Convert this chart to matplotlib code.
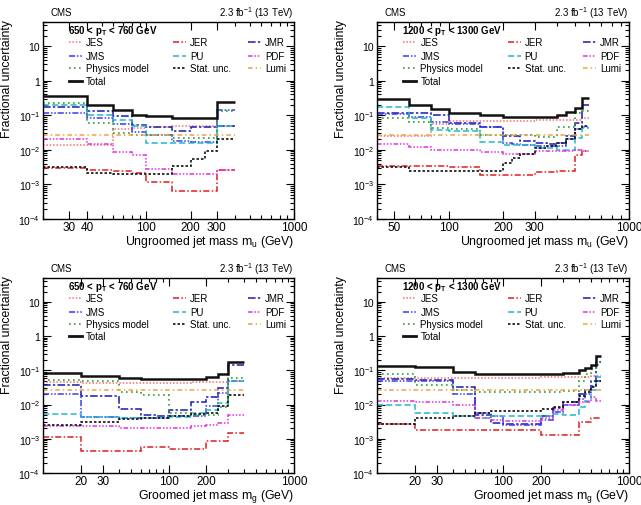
import math
import matplotlib
matplotlib.use("Agg")
import matplotlib.pyplot as plt
from matplotlib import ticker

plt.rcParams['font.family'] = ['Liberation Sans', 'DejaVu Sans']
plt.rcParams['mathtext.fontset'] = 'custom'
plt.rcParams['mathtext.rm'] = 'Liberation Sans'
plt.rcParams['mathtext.bf'] = 'Liberation Sans:bold'

# ---- ungroomed, 650 < pT < 760 GeV
u650_edges = [20, 40, 60, 80, 100, 150, 200, 250, 300, 400]
u650_jes = [0.0135, 0.014, 0.040, 0.042, 0.045, 0.048, 0.050, 0.050, 0.050]
u650_jer = [0.0029, 0.0026, 0.0024, 0.0021, 0.0012, 0.00065, 0.00065, 0.00065, 0.0026]
u650_jmr = [0.17, 0.13, 0.095, 0.052, 0.047, 0.034, 0.046, 0.046, 0.050]
u650_jms = [0.115, 0.085, 0.055, 0.033, 0.027, 0.018, 0.017, 0.017, 0.14]
u650_pu = [0.20, 0.105, 0.075, 0.048, 0.016, 0.016, 0.016, 0.016, 0.050]
u650_pdf = [0.020, 0.015, 0.0085, 0.0072, 0.0028, 0.0020, 0.0020, 0.0020, 0.0027]
u650_phys = [0.23, 0.060, 0.030, 0.027, 0.027, 0.022, 0.022, 0.022, 0.13]
u650_stat = [0.0032, 0.0021, 0.0020, 0.0020, 0.0020, 0.0035, 0.0055, 0.009, 0.021]
u650_lumi = [0.027, 0.027, 0.027, 0.027, 0.027, 0.027, 0.027, 0.027, 0.027]
u650_total = [0.36, 0.20, 0.14, 0.10, 0.095, 0.085, 0.085, 0.085, 0.24]

# ---- ungroomed, 1200 < pT < 1300 GeV
u1200_edges = [40, 60, 80, 100, 150, 200, 225, 250, 300, 350, 400, 450, 500, 550, 600]
u1200_jes = [0.026, 0.026, 0.057, 0.067, 0.070, 0.070, 0.070, 0.070, 0.072, 0.072, 0.072, 0.072, 0.072, 0.085]
u1200_jer = [0.0035, 0.0035, 0.0035, 0.0033, 0.0019, 0.0019, 0.0019, 0.0019, 0.0023, 0.0023, 0.0024, 0.0024, 0.007, 0.009]
u1200_jmr = [0.12, 0.12, 0.10, 0.060, 0.045, 0.025, 0.025, 0.018, 0.016, 0.015, 0.016, 0.025, 0.060, 0.20]
u1200_jms = [0.11, 0.090, 0.065, 0.055, 0.045, 0.016, 0.015, 0.014, 0.013, 0.013, 0.013, 0.020, 0.040, 0.045]
u1200_pu = [0.175, 0.084, 0.038, 0.036, 0.017, 0.014, 0.014, 0.014, 0.011, 0.011, 0.010, 0.010, 0.022, 0.043]
u1200_pdf = [0.015, 0.012, 0.010, 0.010, 0.0086, 0.0077, 0.0077, 0.0077, 0.009, 0.009, 0.009, 0.009, 0.010, 0.009]
u1200_phys = [0.085, 0.063, 0.043, 0.040, 0.027, 0.027, 0.027, 0.027, 0.023, 0.023, 0.045, 0.045, 0.12, 0.13]
u1200_stat = [0.0033, 0.0024, 0.0024, 0.0024, 0.0024, 0.0042, 0.006, 0.0078, 0.011, 0.013, 0.016, 0.020, 0.040, 0.048]
u1200_lumi = [0.027, 0.027, 0.027, 0.027, 0.027, 0.027, 0.027, 0.027, 0.027, 0.027, 0.027, 0.027, 0.027, 0.027]
u1200_total = [0.29, 0.20, 0.155, 0.115, 0.10, 0.087, 0.087, 0.087, 0.087, 0.087, 0.105, 0.128, 0.16, 0.31]

# ---- groomed, 650 < pT < 760 GeV
g650_edges = [10, 20, 40, 60, 80, 100, 150, 200, 250, 300, 400]
g650_jes = [0.045, 0.044, 0.044, 0.044, 0.044, 0.044, 0.045, 0.045, 0.046, 0.048]
g650_jer = [0.0011, 0.00045, 0.00045, 0.00058, 0.00058, 0.00052, 0.00052, 0.00085, 0.00085, 0.0015]
g650_jmr = [0.038, 0.018, 0.0075, 0.005, 0.0045, 0.007, 0.012, 0.017, 0.030, 0.14]
g650_jms = [0.020, 0.0042, 0.004, 0.004, 0.004, 0.0045, 0.0045, 0.009, 0.022, 0.048]
g650_pu = [0.0052, 0.0042, 0.004, 0.004, 0.004, 0.0044, 0.0055, 0.007, 0.011, 0.048]
g650_pdf = [0.0023, 0.0023, 0.002, 0.002, 0.002, 0.002, 0.0024, 0.0025, 0.0028, 0.005]
g650_phys = [0.052, 0.048, 0.023, 0.019, 0.019, 0.0055, 0.005, 0.005, 0.0087, 0.060]
g650_stat = [0.0026, 0.003, 0.0037, 0.004, 0.004, 0.0047, 0.0052, 0.0058, 0.009, 0.019]
g650_lumi = [0.027, 0.027, 0.027, 0.027, 0.027, 0.027, 0.027, 0.027, 0.027, 0.027]
g650_total = [0.085, 0.068, 0.058, 0.055, 0.055, 0.055, 0.056, 0.063, 0.078, 0.175]

# ---- groomed, 1200 < pT < 1300 GeV
g1200_edges = [10, 20, 40, 60, 80, 100, 150, 200, 250, 300, 400, 450, 500, 550, 600]
g1200_jes = [0.058, 0.058, 0.058, 0.058, 0.058, 0.058, 0.060, 0.062, 0.063, 0.065, 0.065, 0.066, 0.068, 0.070]
g1200_jer = [0.0027, 0.0018, 0.0018, 0.0018, 0.0018, 0.0018, 0.0018, 0.0013, 0.0013, 0.0013, 0.003, 0.003, 0.004, 0.004]
g1200_jmr = [0.057, 0.051, 0.033, 0.005, 0.0028, 0.0027, 0.0027, 0.0045, 0.0077, 0.012, 0.020, 0.026, 0.050, 0.18]
g1200_jms = [0.050, 0.048, 0.020, 0.0055, 0.0045, 0.0025, 0.0025, 0.0035, 0.006, 0.010, 0.015, 0.020, 0.035, 0.050]
g1200_pu = [0.0096, 0.0055, 0.0047, 0.004, 0.0047, 0.0047, 0.0047, 0.0047, 0.0052, 0.005, 0.0086, 0.013, 0.027, 0.064]
g1200_pdf = [0.013, 0.0115, 0.010, 0.004, 0.0035, 0.0033, 0.0033, 0.004, 0.007, 0.0096, 0.012, 0.012, 0.017, 0.013]
g1200_phys = [0.080, 0.037, 0.026, 0.023, 0.023, 0.023, 0.023, 0.023, 0.023, 0.025, 0.050, 0.077, 0.11, 0.14]
g1200_stat = [0.0027, 0.004, 0.0047, 0.0055, 0.0063, 0.0063, 0.0066, 0.0072, 0.0085, 0.012, 0.018, 0.023, 0.033, 0.048]
g1200_lumi = [0.027, 0.027, 0.027, 0.027, 0.027, 0.027, 0.027, 0.027, 0.027, 0.027, 0.027, 0.027, 0.027, 0.027]
g1200_total = [0.13, 0.125, 0.09, 0.077, 0.077, 0.077, 0.077, 0.077, 0.08, 0.085, 0.10, 0.12, 0.14, 0.27]

names = ["JES", "JER", "JMR", "JMS", "PU", "PDF", "Physics model", "Stat. unc.", "Lumi", "Total"]
colors = ["#f07070", "#e41a1c", "#1a1ab0", "#3a3aee", "#20b8c8", "#e030e0",
          "#30a030", "#111111", "#f0a040", "#111111"]
styles = [(0, (1, 1.2)), (0, (4, 1.5, 1, 1.5)), (0, (5, 1.5, 1.5, 1.5)),
          (0, (4, 1.2, 1, 1.2, 1, 1.2)), (0, (4, 2)), (0, (3, 1.2, 1, 1.2, 1, 1.2, 1, 1.2)),
          (0, (1, 2)), (0, (1.5, 1.2)), (0, (3, 2, 1, 2)), '-']
widths = [1.1, 1.1, 1.1, 1.1, 1.1, 1.1, 1.2, 1.2, 1.1, 1.8]

# legend layout (row, column per entry) in axes fraction
leg_rows = [0, 0, 0, 1, 1, 1, 2, 2, 2, 3]
leg_cols = [0, 1, 2, 0, 1, 2, 0, 1, 2, 0]
col_x = [0.104, 0.518, 0.817]
row_y = [0.897, 0.828, 0.765, 0.702]

W, H = 641, 506


def yfmt(v, pos):
    if v >= 1:
        return f"{v:g}"
    return r"10$^{%d}$" % round(math.log10(v))


def panel(box, edges, series, pt_text, xlabel, xmin, xticks):
    x0, y0, x1, y1 = box
    ax = plt.gcf().add_axes([x0 / W, 1 - y1 / H, (x1 - x0) / W, (y1 - y0) / H])
    for i, vals in enumerate(series):
        ax.stairs(vals, edges, baseline=None, color=colors[i], linestyle=styles[i],
                  linewidth=widths[i], zorder=3 if i == 9 else 2)
    ax.set_xscale('log')
    ax.set_yscale('log')
    ax.set_xlim(xmin, 1000)
    ax.set_ylim(1e-4, 50)

    ax.xaxis.set_major_locator(ticker.FixedLocator(xticks))
    ax.xaxis.set_major_formatter(ticker.FuncFormatter(lambda v, p: f"{v:g}"))
    minors = [m * 10 ** k for k in (1, 2) for m in range(1, 10)]
    minors = [v for v in minors if xmin <= v <= 1000 and v not in xticks]
    ax.xaxis.set_minor_locator(ticker.FixedLocator(minors))
    ax.xaxis.set_minor_formatter(ticker.NullFormatter())

    ax.yaxis.set_major_locator(ticker.FixedLocator([1e-4, 1e-3, 1e-2, 1e-1, 1, 10]))
    ax.yaxis.set_major_formatter(ticker.FuncFormatter(yfmt))
    ax.yaxis.set_minor_locator(ticker.LogLocator(base=10, subs=range(2, 10), numticks=20))
    ax.yaxis.set_minor_formatter(ticker.NullFormatter())

    ax.tick_params(which='both', direction='in', top=True, right=True, width=0.8)
    ax.tick_params(which='major', length=6)
    ax.tick_params(which='minor', length=3)
    ax.tick_params(axis='x', labelsize=8.5, pad=1.2)
    ax.tick_params(axis='y', labelsize=7.5, pad=2)
    for s in ax.spines.values():
        s.set_linewidth(1.0)

    ax.set_xlabel(xlabel, fontsize=8.8, ha='right')
    ax.xaxis.set_label_coords(1.0, -0.072)
    ax.set_ylabel("Fractional uncertainty", fontsize=8.8, ha='right')
    ax.yaxis.set_label_coords(-0.118, 1.015)

    ax.text(0.028, 1.05, "CMS", transform=ax.transAxes, fontsize=7, va='center', ha='left')
    ax.text(1.0, 1.05, r"2.3 fb$^{-1}$ (13 TeV)", transform=ax.transAxes, fontsize=7,
            va='center', ha='right')
    ax.text(0.1, 0.958, pt_text, transform=ax.transAxes, fontsize=7, fontweight='bold',
            va='center', ha='left')

    for i in range(10):
        xs = col_x[leg_cols[i]]
        ys = row_y[leg_rows[i]]
        ax.plot([xs, xs + 0.052], [ys, ys], transform=ax.transAxes, color=colors[i],
                linestyle=styles[i], linewidth=widths[i] + (0.2 if i == 9 else 0))
        ax.text(xs + 0.068, ys, names[i], transform=ax.transAxes, fontsize=7,
                va='center', ha='left')
    return ax


fig = plt.figure(figsize=(6.41, 5.06), dpi=100)

panel((43, 23, 294, 220),
      u650_edges,
      [u650_jes, u650_jer, u650_jmr, u650_jms, u650_pu, u650_pdf, u650_phys, u650_stat, u650_lumi, u650_total],
      r"650 < p$_{\mathbf{T}}$ < 760 GeV", r"Ungroomed jet mass m$_{\mathrm{u}}$ (GeV)",
      20, [30, 40, 100, 200, 300, 1000])
panel((377, 23, 629, 220),
      u1200_edges,
      [u1200_jes, u1200_jer, u1200_jmr, u1200_jms, u1200_pu, u1200_pdf, u1200_phys, u1200_stat, u1200_lumi, u1200_total],
      r"1200 < p$_{\mathbf{T}}$ < 1300 GeV", r"Ungroomed jet mass m$_{\mathrm{u}}$ (GeV)",
      40, [50, 100, 200, 300, 1000])
panel((43, 279, 294, 474),
      g650_edges,
      [g650_jes, g650_jer, g650_jmr, g650_jms, g650_pu, g650_pdf, g650_phys, g650_stat, g650_lumi, g650_total],
      r"650 < p$_{\mathbf{T}}$ < 760 GeV", r"Groomed jet mass m$_{\mathrm{g}}$ (GeV)",
      10, [20, 30, 100, 200, 1000])
panel((377, 279, 629, 474),
      g1200_edges,
      [g1200_jes, g1200_jer, g1200_jmr, g1200_jms, g1200_pu, g1200_pdf, g1200_phys, g1200_stat, g1200_lumi, g1200_total],
      r"1200 < p$_{\mathbf{T}}$ < 1300 GeV", r"Groomed jet mass m$_{\mathrm{g}}$ (GeV)",
      10, [20, 30, 100, 200, 1000])

fig.savefig("out.png", dpi=100)
